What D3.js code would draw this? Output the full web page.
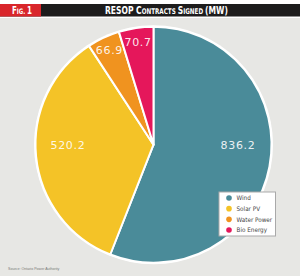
<!DOCTYPE html>
<html><head><meta charset="utf-8">
<script src="https://cdn.jsdelivr.net/npm/d3@7"></script>
<style>html,body{margin:0;padding:0;background:#fff;}svg{display:block;}</style>
</head><body>
<svg id="c" width="300" height="276"></svg>
<script>
const categories = ["Wind", "Solar PV", "Water Power", "Bio Energy"];
const values = [836.2, 520.2, 66.9, 70.7];
const valueLabels = ["836.2", "520.2", "66.9", "70.7"];
const colors = ["#4a8b99", "#f4c327", "#f0931f", "#e5175b"];
const source = "Source: Ontario Power Authority";

const svg = d3.select("#c");
const W = 300, H = 276;
svg.append("rect").attr("width", W).attr("height", H).attr("fill", "#fff");
svg.append("rect").attr("x", 0).attr("y", 18).attr("width", W).attr("height", H - 18).attr("fill", "#e7e7e4");
svg.append("rect").attr("x", 0).attr("y", 4).attr("width", W).attr("height", 12.5).attr("fill", "#1d1c1c");
svg.append("rect").attr("x", 0).attr("y", 4).attr("width", 41).attr("height", 12.5).attr("fill", "#d9262b");

const cf = "'DejaVu Sans Condensed','Liberation Sans Narrow',sans-serif";
function fitText(sel, x0, width) {
  const bb = sel.node().getBBox();
  const s = width / bb.width;
  sel.attr("transform", `translate(${x0},0) scale(${s},1) translate(${-bb.x},0)`);
}
const fig = svg.append("text").attr("x", 0).attr("y", 14).attr("fill", "#fff")
  .attr("font-family", cf).attr("font-weight", "bold").attr("font-size", 10);
fig.append("tspan").text("F");
fig.append("tspan").attr("font-size", 7.5).text("IG. ");
fig.append("tspan").text("1");
fitText(fig, 12, 20);

const title = svg.append("text").attr("x", 0).attr("y", 14).attr("fill", "#fff")
  .attr("font-family", cf).attr("font-weight", "bold").attr("font-size", 10.5);
title.append("tspan").text("RESOP C");
title.append("tspan").attr("font-size", 7.8).text("ONTRACTS ");
title.append("tspan").text("S");
title.append("tspan").attr("font-size", 7.8).text("IGNED ");
title.append("tspan").text("(MW)");
fitText(title, 105, 123);

const cx = 153.5, cy = 144.7, R = 118;
const pie = d3.pie().sort(null).value(d => d)(values);
const arc = d3.arc().innerRadius(0).outerRadius(R);
const g = svg.append("g").attr("transform", `translate(${cx},${cy})`);
g.append("circle").attr("r", R + 1.5).attr("fill", "#fff");
g.selectAll("path").data(pie).join("path")
  .attr("d", arc).attr("fill", (d, i) => colors[i])
  .attr("stroke", "#fff").attr("stroke-width", 2).attr("stroke-linejoin", "round");

g.selectAll("text.lbl").data(pie).join("text").attr("class", "lbl")
  .each(function (d, i) {
    const mid = (d.startAngle + d.endAngle) / 2;
    const big = (d.endAngle - d.startAngle) > 1;
    const r = big ? 86 : 104;
    const x = Math.sin(mid) * r;
    const y = big ? 0 : -Math.cos(mid) * r;
    d3.select(this).attr("x", x).attr("y", y).attr("dy", "0.36em");
  })
  .attr("text-anchor", "middle").attr("fill", "#fff").attr("fill-opacity", 0.9)
  .attr("font-family", "'DejaVu Sans',sans-serif").attr("font-size", 11)
  .attr("letter-spacing", 0.7)
  .text((d, i) => valueLabels[i]);

const lg = svg.append("g").attr("transform", "translate(219,192)");
lg.append("rect").attr("width", 56.5).attr("height", 44).attr("fill", "#fff")
  .attr("stroke", "#a9a9a9").attr("stroke-width", 1);
const y = d3.scalePoint().domain(categories).range([6, 38]);
categories.forEach((c, i) => {
  lg.append("circle").attr("cx", 10).attr("cy", y(c)).attr("r", 2.8).attr("fill", colors[i]);
  lg.append("text").attr("x", 17.5).attr("y", y(c)).attr("dy", "0.35em")
    .attr("font-family", "'DejaVu Sans Condensed','Liberation Sans',sans-serif").attr("font-size", 6.3)
    .attr("fill", "#444").text(c);
});

svg.append("text").attr("x", 8).attr("y", 270).attr("font-family", "'Liberation Sans',sans-serif")
  .attr("font-size", 3.6).attr("fill", "#777").text(source);
</script>
</body></html>
